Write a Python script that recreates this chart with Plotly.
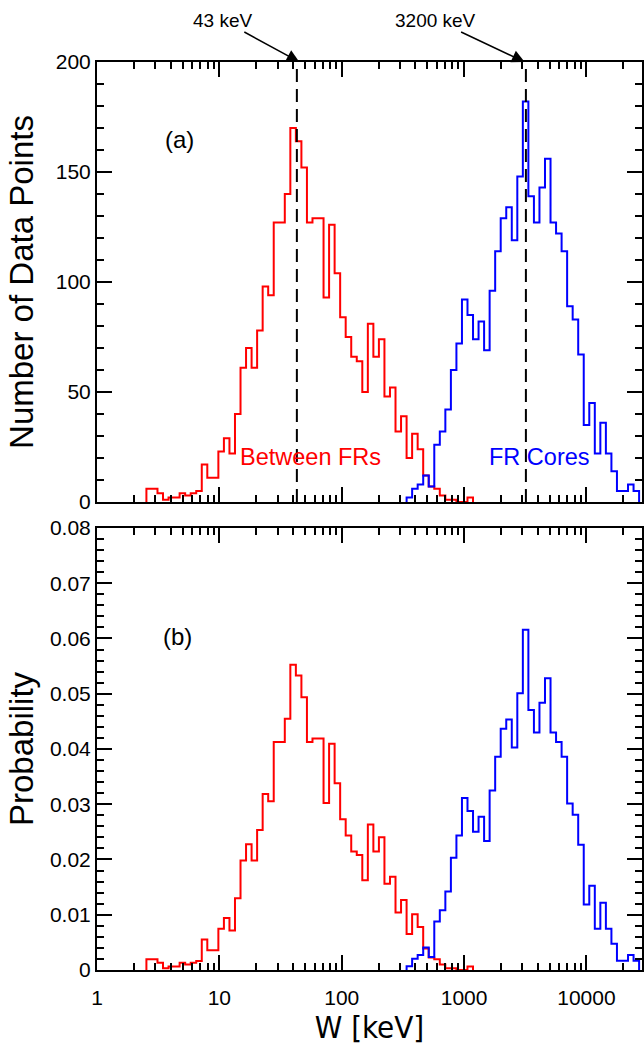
import numpy as np
import plotly.graph_objects as go

# ---------------- data ----------------
BIN_WIDTH_DEX = 0.04524          # log10 width of each histogram bin
RED_FIRST_EDGE_KEV = 2.534       # left edge of first "Between FRs" bin
BLUE_FIRST_EDGE_KEV = 339.0      # left edge of first "FR Cores" bin

between_counts = [6, 6, 4, 1, 2, 2, 4, 3, 4, 5,
                  17, 11, 11, 23, 29, 22, 40, 61, 70, 61,
                  78, 98, 94, 127, 127, 140, 170, 164, 152, 127,
                  129, 129, 93, 126, 104, 84, 75, 66, 64, 50,
                  81, 66, 74, 48, 52, 32, 39, 20, 31, 24,
                  12, 7, 6, 3, 1, 1, 0, 0, 2]

core_counts = [2, 6, 8, 12, 7, 26, 32, 42, 60, 72,
               92, 85, 74, 82, 69, 96, 114, 129, 134, 119,
               148, 182, 139, 127, 143, 156, 127, 122, 114, 89,
               83, 67, 35, 45, 22, 36, 22, 14, 5, 5,
               8, 5]

marker_energies = [43, 3200]
marker_labels = ["43 keV", "3200 keV"]
x_tick_vals = [1, 10, 100, 1000, 10000]
x_tick_text = ["1", "10", "100", "1000", "10000"]

FONT = "Liberation Sans, Arial, sans-serif"
NARROW = "Liberation Sans Narrow, DejaVu Sans Condensed, Liberation Sans, Arial, sans-serif"
TICK_SIZE = 21
TITLE_SIZE = 33


def edges_for(first_edge, n):
    return first_edge * 10 ** (BIN_WIDTH_DEX * np.arange(n + 1))


def step_outline(edges, counts):
    xs, ys = [edges[0]], [0]
    for i, c in enumerate(counts):
        xs += [edges[i], edges[i + 1]]
        ys += [c, c]
    xs.append(edges[-1])
    ys.append(0)
    return xs, ys


red_edges = edges_for(RED_FIRST_EDGE_KEV, len(between_counts))
blue_edges = edges_for(BLUE_FIRST_EDGE_KEV, len(core_counts))
red_prob = np.array(between_counts) / np.sum(between_counts)
blue_prob = np.array(core_counts) / np.sum(core_counts)

fig = go.Figure()
for edges, vals, color, xa, ya in [
    (red_edges, between_counts, "#ff0000", "x", "y"),
    (blue_edges, core_counts, "#0000ff", "x", "y"),
    (red_edges, red_prob, "#ff0000", "x2", "y2"),
    (blue_edges, blue_prob, "#0000ff", "x2", "y2"),
]:
    xs, ys = step_outline(edges, list(vals))
    fig.add_trace(go.Scatter(x=xs, y=ys, mode="lines",
                             line=dict(color=color, width=2),
                             xaxis=xa, yaxis=ya, showlegend=False,
                             hoverinfo="skip"))

# dashed markers in panel (a)
for e in marker_energies:
    fig.add_shape(type="line", xref="x", yref="y domain", x0=e, x1=e, y0=0, y1=1,
                  line=dict(color="black", width=2, dash="13px,7px"))

minor_vals = [d * 10 ** p for p in range(0, 5) for d in range(2, 10)]

axis_common = dict(showline=True, linecolor="black", linewidth=2, mirror="ticks",
                   ticks="inside", tickcolor="black", tickwidth=1.5, ticklen=15,
                   showgrid=False, zeroline=False,
                   tickfont=dict(family=FONT, size=TICK_SIZE, color="black"))

xr = [0, 4.454]
fig.update_layout(
    width=644, height=1045,
    margin=dict(l=97, r=0, t=62, b=75),
    paper_bgcolor="white", plot_bgcolor="white",
    font=dict(family=FONT, color="black"),
    xaxis=dict(type="log", range=xr, domain=[0, 1], anchor="y",
               tickvals=x_tick_vals, showticklabels=False,
               minor=dict(tickvals=minor_vals, ticks="inside", ticklen=7,
                          tickcolor="black", tickwidth=1.5, showgrid=False),
               **axis_common),
    yaxis=dict(range=[0, 200], domain=[0.5154, 1], anchor="x",
               tickvals=[0, 50, 100, 150, 200],
               minor=dict(dtick=10, ticks="inside", ticklen=7,
                          tickcolor="black", tickwidth=1.5, showgrid=False),
               title=dict(text="Number of Data Points",
                          font=dict(family=FONT, size=TITLE_SIZE), standoff=12),
               **axis_common),
    xaxis2=dict(type="log", range=xr, domain=[0, 1], anchor="y2",
                tickvals=x_tick_vals, ticktext=x_tick_text,
                ticklabelstandoff=8,
                minor=dict(tickvals=minor_vals, ticks="inside", ticklen=7,
                           tickcolor="black", tickwidth=1.5, showgrid=False),
                title=dict(text="W [keV]", font=dict(family=NARROW, size=31),
                           standoff=6),
                **axis_common),
    yaxis2=dict(range=[0, 0.08], domain=[0, 0.4868], anchor="x2",
                tickvals=[0, 0.01, 0.02, 0.03, 0.04, 0.05, 0.06, 0.07, 0.08],
                ticktext=["0", "0.01", "0.02", "0.03", "0.04", "0.05", "0.06", "0.07", "0.08"],
                minor=dict(dtick=0.002, ticks="inside", ticklen=7,
                           tickcolor="black", tickwidth=1.5, showgrid=False),
                title=dict(text="Probability", font=dict(family=FONT, size=TITLE_SIZE),
                           standoff=6),
                **axis_common),
)

# panel labels and series labels
fig.add_annotation(text="(a)", xref="x domain", yref="y domain", x=0.121, y=0.859,
                   showarrow=False, font=dict(family=FONT, size=24, color="black"))
fig.add_annotation(text="(b)", xref="x2 domain", yref="y2 domain", x=0.117, y=0.789,
                   showarrow=False, font=dict(family=FONT, size=24, color="black"))
fig.add_annotation(text="Between FRs", xref="x", yref="y", x=1.743, y=20.6,
                   showarrow=False, font=dict(family=FONT, size=23.5, color="#ff0000"))
fig.add_annotation(text="FR Cores", xref="x", yref="y", x=3.616, y=20.6,
                   showarrow=False, font=dict(family=FONT, size=23.5, color="#0000ff"))

# arrows to the dashed markers
for e, lab, off, ax in zip(marker_energies, marker_labels, [0.02, -0.01], [-77, -89]):
    fig.add_annotation(text=lab, xref="x", yref="y", x=np.log10(e) + off, y=200,
                       ax=ax, ay=-42, showarrow=True, arrowhead=2, arrowsize=1.7,
                       arrowwidth=1.5, arrowcolor="black", standoff=0,
                       font=dict(family=FONT, size=19, color="black"))

fig.write_html("out.html", config={"displayModeBar": False})

# remove the browser's default page margin so the figure sits at (0, 0)
with open("out.html", "r", encoding="utf-8") as f:
    html = f.read()
html = html.replace("<body>", '<body style="margin:0;padding:0;overflow:hidden">', 1)
with open("out.html", "w", encoding="utf-8") as f:
    f.write(html)
